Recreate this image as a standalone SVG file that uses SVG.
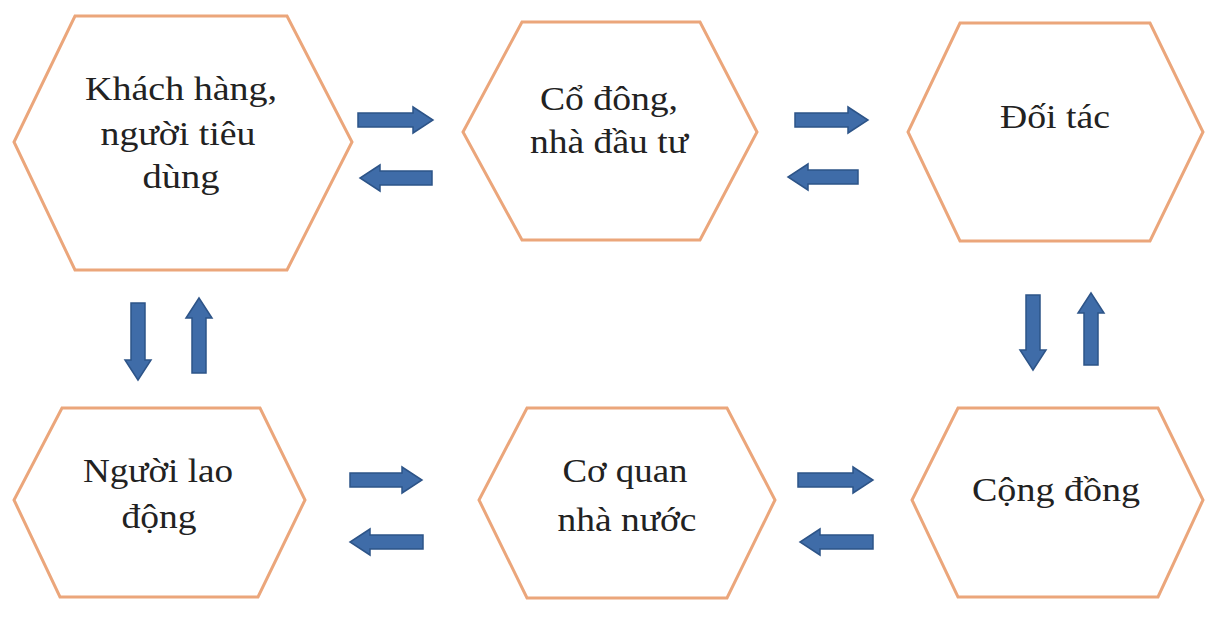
<svg xmlns="http://www.w3.org/2000/svg" width="1205" height="622" viewBox="0 0 1205 622">
<style>
.hex{fill:#ffffff;stroke:#eba67b;stroke-width:3;stroke-linejoin:miter}
.lbl{font-family:"Liberation Serif","Times New Roman",serif;font-size:33px;fill:#222222;text-anchor:middle}
.arr{fill:#3f6ca8;stroke:#2d5488;stroke-width:1.5;stroke-linejoin:miter}
</style>
<rect width="1205" height="622" fill="#ffffff"/>
<g id="node-khach-hang">
<polygon class="hex" points="75,16 287,16 352,142 287,270 75,270 14,142"/>
<text class="lbl" x="181" y="100" textLength="192" lengthAdjust="spacingAndGlyphs">Khách hàng,</text>
<text class="lbl" x="178" y="145" textLength="155" lengthAdjust="spacingAndGlyphs">người tiêu</text>
<text class="lbl" x="181" y="188" textLength="77" lengthAdjust="spacingAndGlyphs">dùng</text>
</g>
<g id="node-co-dong">
<polygon class="hex" points="522,22 700,22 757,132 700,240 522,240 463,132"/>
<text class="lbl" x="609" y="110" textLength="138" lengthAdjust="spacingAndGlyphs">Cổ đông,</text>
<text class="lbl" x="609" y="153" textLength="158" lengthAdjust="spacingAndGlyphs">nhà đầu tư</text>
</g>
<g id="node-doi-tac">
<polygon class="hex" points="960,23 1150,23 1203,132 1150,241 960,241 908,132"/>
<text class="lbl" x="1055" y="128" textLength="110" lengthAdjust="spacingAndGlyphs">Đối tác</text>
</g>
<g id="node-nguoi-lao-dong">
<polygon class="hex" points="62,408 260,408 305,500 258,597 60,597 14,500"/>
<text class="lbl" x="158" y="482" textLength="150" lengthAdjust="spacingAndGlyphs">Người lao</text>
<text class="lbl" x="159" y="528" textLength="75" lengthAdjust="spacingAndGlyphs">động</text>
</g>
<g id="node-co-quan">
<polygon class="hex" points="527,408 727,408 775,500 727,598 527,598 479,500"/>
<text class="lbl" x="625" y="482" textLength="125" lengthAdjust="spacingAndGlyphs">Cơ quan</text>
<text class="lbl" x="627" y="531" textLength="139" lengthAdjust="spacingAndGlyphs">nhà nước</text>
</g>
<g id="node-cong-dong">
<polygon class="hex" points="958,408 1158,408 1203,500 1158,597 958,597 912,500"/>
<text class="lbl" x="1056" y="501" textLength="168" lengthAdjust="spacingAndGlyphs">Cộng đồng</text>
</g>
<g id="connectors">
<polygon class="arr" points="358,113 413,113 413,107 433,120 413,133 413,127 358,127"/>
<polygon class="arr" points="432,171 380,171 380,165 360,178 380,191 380,185 432,185"/>
<polygon class="arr" points="795,113 848,113 848,107 868,120 848,133 848,127 795,127"/>
<polygon class="arr" points="858,170 808,170 808,164 788,177 808,190 808,184 858,184"/>
<polygon class="arr" points="350,473 402,473 402,467 422,480 402,493 402,487 350,487"/>
<polygon class="arr" points="423,535 370,535 370,529 350,542 370,555 370,549 423,549"/>
<polygon class="arr" points="798,473 853,473 853,467 873,480 853,493 853,487 798,487"/>
<polygon class="arr" points="873,535 820,535 820,529 800,542 820,555 820,549 873,549"/>
<polygon class="arr" points="131,303 145,303 145,360 151,360 138,380 125,360 131,360"/>
<polygon class="arr" points="199,298 212,318 206,318 206,373 192,373 192,318 186,318"/>
<polygon class="arr" points="1026,295 1040,295 1040,350 1046,350 1033,370 1020,350 1026,350"/>
<polygon class="arr" points="1091,293 1104,313 1098,313 1098,365 1084,365 1084,313 1078,313"/>
</g>
</svg>
